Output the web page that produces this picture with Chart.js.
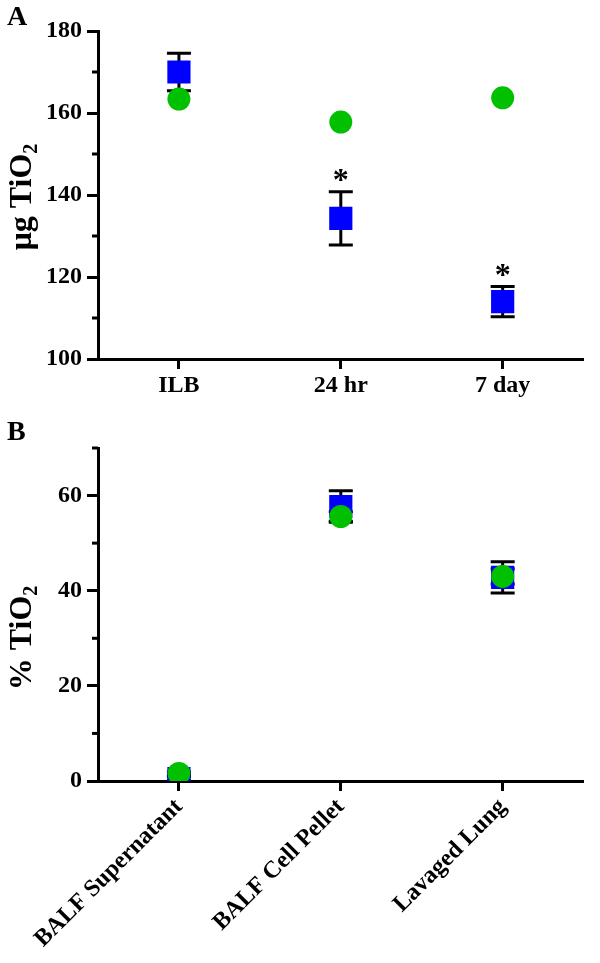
<!DOCTYPE html>
<html>
<head>
<meta charset="utf-8">
<script src="https://cdn.jsdelivr.net/npm/chart.js@4"></script>
<style>
  body { margin: 0; background: #fff; }
  #wrap { position: relative; width: 600px; height: 963px; }
  .panel { position: absolute; left: 0; width: 600px; }
  .letter { position: absolute; font: bold 28px "Liberation Serif", serif; color: #000; }
</style>
</head>
<body>
<div id="wrap">
  <div class="panel" style="top:0;height:400px"><canvas id="chartA"></canvas></div>
  <div class="panel" style="top:400px;height:563px"><canvas id="chartB"></canvas></div>
  <div class="letter" style="left:7px;top:0px">A</div>
  <div class="letter" style="left:7px;top:415px">B</div>
</div>
<script>
// panel A data
const categoriesA = ['ILB', '24 hr', '7 day'];
const blueA = [170, 134.3, 114];
const blueErrA = [4.6, 6.5, 3.7];
const greenA = [163.4, 157.8, 163.7];
const starsA = [false, true, true];
const ticksA = { min: 100, max: 180, step: 10 };

// panel B data
const categoriesB = ['BALF Supernatant', 'BALF Cell Pellet', 'Lavaged Lung'];
const blueB = [0.5, 57.7, 42.8];
const blueErrB = [0.4, 3.3, 3.3];
const greenB = [1.6, 55.6, 43.0];
const greenErrB = [0.3, 1.0, 1.6];
const ticksB = { min: 0, max: 70, step: 10 };

const BLUE = '#0000ff';
const GREEN = '#00c000';
const FONT = '"Liberation Serif", "Times New Roman", serif';

Chart.defaults.font.family = FONT;
Chart.defaults.font.weight = 'bold';
Chart.defaults.font.size = 24;
Chart.defaults.color = '#000';

// error bars + asterisks, drawn under the markers
const errorBars = {
    id: 'errorBars',
    beforeDatasetsDraw(chart) {
        let ctx = chart.ctx;
        let y = chart.scales.y;
        ctx.save();
        ctx.strokeStyle = '#000';
        ctx.lineWidth = 3;
        chart.data.datasets.forEach((ds, i) => {
            if (!ds.errors) return;
            let meta = chart.getDatasetMeta(i);
            meta.data.forEach((pt, j) => {
                let err = ds.errors[j];
                if (!err) return;
                let top = y.getPixelForValue(ds.data[j] + err);
                let bot = y.getPixelForValue(ds.data[j] - err);
                ctx.beginPath();
                ctx.moveTo(pt.x, top); ctx.lineTo(pt.x, bot);
                ctx.moveTo(pt.x - 12, top); ctx.lineTo(pt.x + 12, top);
                ctx.moveTo(pt.x - 12, bot); ctx.lineTo(pt.x + 12, bot);
                ctx.stroke();
                if (ds.stars && ds.stars[j]) {
                    ctx.fillStyle = '#000';
                    ctx.font = 'bold 32px ' + FONT;
                    ctx.textAlign = 'center';
                    ctx.textBaseline = 'middle';
                    ctx.fillText('*', pt.x, top - 10);
                }
            });
        });
        ctx.restore();
    }
};

// short minor ticks on the y axis
const minorTicks = {
    id: 'minorTicks',
    afterDraw(chart) {
        let ctx = chart.ctx;
        let y = chart.scales.y;
        ctx.save();
        ctx.strokeStyle = '#000';
        ctx.lineWidth = 3;
        y.ticks.forEach(t => {
            if (t.value % 20 === 0) return;
            let py = y.getPixelForValue(t.value);
            ctx.beginPath();
            ctx.moveTo(y.right - 6, py);
            ctx.lineTo(y.right, py);
            ctx.stroke();
        });
        ctx.restore();
    }
};

// rotated y title with a subscript
const sideTitle = {
    id: 'sideTitle',
    afterDraw(chart, args, opts) {
        let ctx = chart.ctx;
        ctx.save();
        ctx.translate(opts.x, opts.y);
        ctx.rotate(-Math.PI / 2);
        ctx.fillStyle = '#000';
        ctx.textBaseline = 'alphabetic';
        ctx.textAlign = 'left';
        ctx.font = 'bold 32px ' + FONT;
        let w1 = ctx.measureText(opts.text).width;
        ctx.font = 'bold 20px ' + FONT;
        let w2 = ctx.measureText(opts.sub).width;
        let start = -(w1 + w2) / 2;
        ctx.font = 'bold 32px ' + FONT;
        ctx.fillText(opts.text, start, 0);
        ctx.font = 'bold 20px ' + FONT;
        ctx.fillText(opts.sub, start + w1, 6);
        ctx.restore();
    }
};

function makeChart(id, labels, blue, blueErr, green, greenErr, stars, range, pad, xHeight, rotate, title) {
    let ctx = document.getElementById(id).getContext('2d');
    return new Chart(ctx, {
        type: 'line',
        data: {
            labels: labels,
            datasets: [{
                data: green,
                errors: greenErr,
                showLine: false,
                pointStyle: 'circle',
                pointRadius: 11.5,
                pointBorderWidth: 0,
                backgroundColor: GREEN,
                borderColor: GREEN,
                order: 0
            }, {
                data: blue,
                errors: blueErr,
                stars: stars,
                showLine: false,
                pointStyle: 'rect',
                pointRadius: 16.4,
                pointBorderWidth: 0,
                backgroundColor: BLUE,
                borderColor: BLUE,
                order: 1
            }]
        },
        options: {
            responsive: true,
            maintainAspectRatio: false,
            animation: false,
            events: [],
            layout: { padding: pad },
            plugins: {
                legend: { display: false },
                tooltip: { enabled: false },
                sideTitle: title
            },
            scales: {
                x: {
                    offset: true,
                    grid: { display: true, drawOnChartArea: false, offset: false, tickLength: 10, tickWidth: 3, tickColor: '#000' },
                    border: { display: true, color: '#000', width: 3 },
                    ticks: { padding: 2, autoSkip: false, minRotation: rotate, maxRotation: rotate },
                    afterFit: (s) => { s.height = xHeight; }
                },
                y: {
                    min: range.min,
                    max: range.max,
                    grid: {
                        display: true, drawOnChartArea: false, tickLength: 11, tickWidth: 3,
                        tickColor: (c) => (c.tick && c.tick.value % 20 === 0) ? '#000' : 'rgba(0,0,0,0)'
                    },
                    border: { display: true, color: '#000', width: 3 },
                    ticks: {
                        stepSize: range.step,
                        padding: 5,
                        callback: (v) => v % 20 === 0 ? v : ''
                    },
                    afterFit: (s) => { s.width = 98; }
                }
            }
        },
        plugins: [errorBars, minorTicks, sideTitle]
    });
}

makeChart('chartA', categoriesA, blueA, blueErrA, greenA, null, starsA, ticksA,
    { top: 31, right: 10, left: 0, bottom: 0 }, 41, 0,
    { text: 'μg TiO', sub: '2', x: 31, y: 197 });

makeChart('chartB', categoriesB, blueB, blueErrB, greenB, greenErrB, null, ticksB,
    { top: 48, right: 4, left: 0, bottom: 0 }, 182, 45,
    { text: '% TiO', sub: '2', x: 31, y: 238 });
</script>
</body>
</html>
